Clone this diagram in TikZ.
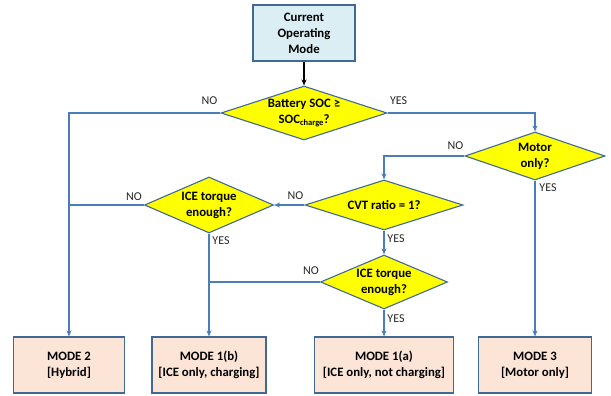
\documentclass[tikz,border=0pt]{standalone}
\usepackage{fontspec}
\setmainfont{Carlito}
\usetikzlibrary{shapes.geometric,arrows.meta,calc}
\definecolor{linecol}{RGB}{74,126,187}
\definecolor{edgecol}{RGB}{65,105,150}
\definecolor{topfill}{RGB}{218,238,243}
\definecolor{modefill}{RGB}{252,228,214}
\definecolor{diafill}{RGB}{255,255,0}
\tikzset{
  topbox/.style={draw=edgecol, line width=1.1pt, fill=topfill, minimum width=102pt, minimum height=56pt, inner sep=0pt},
  modebox/.style={draw=edgecol, line width=1.1pt, fill=modefill, minimum height=56pt, inner sep=0pt},
  dia/.style={diamond, draw=edgecol, line width=1.1pt, fill=diafill, inner sep=0pt},
  txt/.style={font=\fontsize{12.8}{16}\selectfont\bfseries, align=center, text=black},
  lbl/.style={font=\fontsize{12}{14}\selectfont, text=black!85, inner sep=0pt},
  conn/.style={draw=linecol, line width=1.2pt, -{Stealth[length=6pt,width=5pt]}},
  plain/.style={draw=linecol, line width=1.2pt}
}
\begin{document}
\begin{tikzpicture}[x=1pt,y=-1pt]
\useasboundingbox (0,0) rectangle (611,396);
% top box
\node[topbox, txt] (top) at (304,33) {Current\\Operating\\Mode};
% diamonds
\node[dia, minimum width=166pt, minimum height=54pt] (bat) at (304,113) {};
\node[txt] (batt) at (bat) {Battery SOC ≥\\SOC{\fontsize{8.5}{8.5}\selectfont\raisebox{-2.5pt}{charge}}?};
\node[dia, minimum width=140pt, minimum height=48pt] (mot) at (535,156) {};
\node[txt] (mott) at (mot) {Motor\\only?};
\node[dia, minimum width=158pt, minimum height=50pt] (cvt) at (384,205) {};
\node[txt] (cvtt) at (cvt) {CVT ratio = 1?};
\node[dia, minimum width=129pt, minimum height=56pt] (ice1) at (209,205) {};
\node[txt] (ice1t) at (ice1) {ICE torque\\enough?};
\node[dia, minimum width=127pt, minimum height=54pt] (ice2) at (384,282) {};
\node[txt] (ice2t) at (ice2) {ICE torque\\enough?};
% mode boxes
\node[modebox, txt, minimum width=111pt] (m2) at (69,365) {MODE 2\\{}[Hybrid]};
\node[modebox, txt, minimum width=114pt] (m1b) at (209,365) {MODE 1(b)\\{}[ICE only, charging]};
\node[modebox, txt, minimum width=139pt] (m1a) at (384,365) {MODE 1(a)\\{}[ICE only, not charging]};
\node[modebox, txt, minimum width=113pt] (m3) at (535,365) {MODE 3\\{}[Motor only]};
% connectors
\draw[line width=1.2pt, -{Stealth[length=6pt,width=5pt]}] (top.south) -- (bat.north);
\draw[conn] (bat.west) -| (m2.north);
\draw[conn] (bat.east) -| (mot.north);
\draw[conn] (mot.west) -| (cvt.north);
\draw[conn] (mot.south) -- (m3.north);
\draw[conn] (cvt.west) -- (ice1.east);
\draw[conn] (cvt.south) -- (ice2.north);
\draw[plain] (ice1.west) -- (ice1.west -| m2.north);
\draw[conn] (ice1.south) -- (m1b.north);
\draw[plain] (ice2.west) -- (ice2.west -| m1b.north);
\draw[conn] (ice2.south) -- (m1a.north);
% labels
\node[lbl] (l1) at ($(bat.west)+(-11,-12)$) {NO};
\node[lbl] (l2) at ($(bat.east)+(11,-12)$) {YES};
\node[lbl] (l3) at ($(mot.west)+(-9,-10)$) {NO};
\node[lbl] (l4) at ($(mot.south)+(13,7)$) {YES};
\node[lbl] (l5) at ($(cvt.west)+(-9,-9)$) {NO};
\node[lbl] (l6) at ($(cvt.south)+(12,8)$) {YES};
\node[lbl] (l7) at ($(ice1.west)+(-10,-8)$) {NO};
\node[lbl] (l8) at ($(ice1.south)+(12,7)$) {YES};
\node[lbl] (l9) at ($(ice2.west)+(-9,-11)$) {NO};
\node[lbl] (l10) at ($(ice2.south)+(12,9)$) {YES};
\end{tikzpicture}
\end{document}
